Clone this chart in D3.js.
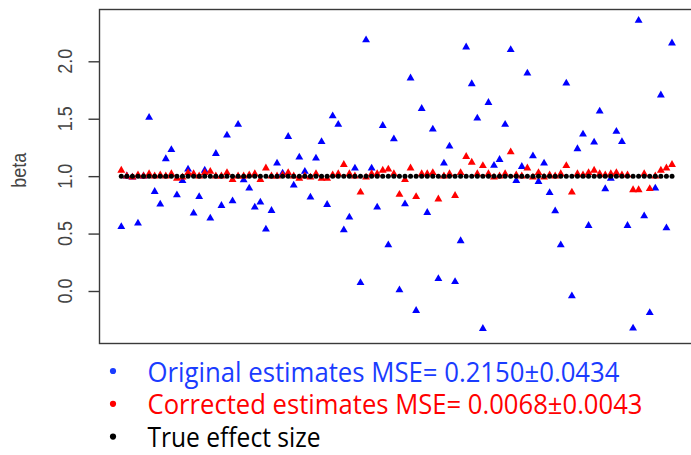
<!DOCTYPE html>
<html>
<head>
<meta charset="utf-8">
<script src="https://cdn.jsdelivr.net/npm/d3@7"></script>
<style>
  html, body { margin: 0; padding: 0; background: #fff; }
  svg { display: block; }
</style>
</head>
<body>
<svg id="chart" width="691" height="455"></svg>
<script>
// Simulation runs 1..100: estimated beta per run
const originalEstimates = [
  0.56, 1.00, 0.99, 0.59, 1.00, 1.51, 0.865, 0.755, 1.15, 1.23,
  0.836, 0.96, 1.06, 0.677, 0.82, 1.05, 0.633, 1.196, 0.743, 1.356,
  0.784, 1.449, 0.967, 0.895, 0.729, 0.773, 0.537, 0.70, 1.112, 1.025,
  1.344, 0.92, 1.165, 1.04, 0.816, 1.156, 1.30, 0.752, 1.524, 1.449,
  0.531, 0.642, 1.069, 0.072, 2.186, 1.069, 0.729, 1.44, 0.40, 1.324,
  0.009, 0.758, 1.853, -0.171, 1.588, 0.682, 1.408, 0.107, 1.112, 1.26,
  0.081, 0.436, 2.123, 1.803, 1.504, -0.328, 1.64, 1.092, 1.144, 1.449,
  2.10, 0.961, 1.083, 1.896, 1.176, 0.952, 1.112, 0.856, 0.697, 0.40,
  1.809, -0.044, 1.237, 1.365, 0.569, 1.295, 1.565, 0.889, 0.98, 1.388,
  1.30, 0.569, -0.325, 2.355, 0.653, -0.189, 0.895, 1.705, 0.549, 2.158
];

const correctedEstimates = [
  1.05, 1.00, 0.99, 1.01, 1.00, 1.02, 1.00, 1.01, 1.00, 1.02,
  0.98, 0.99, 1.03, 1.02, 1.00, 1.03, 1.04, 1.00, 1.00, 1.03,
  0.97, 1.00, 1.00, 1.01, 1.02, 0.97, 1.07, 1.00, 1.00, 1.01,
  1.03, 1.00, 0.98, 1.00, 0.99, 1.02, 0.98, 0.98, 1.01, 1.02,
  1.10, 1.02, 1.00, 0.86, 0.99, 1.02, 1.02, 1.05, 1.06, 1.02,
  0.84, 0.97, 1.07, 0.82, 1.02, 1.02, 1.03, 0.80, 1.00, 1.02,
  0.83, 1.03, 1.17, 1.12, 1.02, 1.09, 1.02, 0.99, 1.00, 1.02,
  1.21, 1.01, 1.00, 1.07, 0.99, 1.03, 0.99, 1.01, 1.00, 1.02,
  1.09, 0.86, 1.02, 1.01, 1.03, 1.05, 1.02, 1.01, 1.02, 1.03,
  1.01, 1.01, 0.88, 0.88, 1.02, 0.89, 1.00, 1.05, 1.07, 1.10
];

const trueEffect = [
  1, 1, 1, 1, 1, 1, 1, 1, 1, 1,
  1, 1, 1, 1, 1, 1, 1, 1, 1, 1,
  1, 1, 1, 1, 1, 1, 1, 1, 1, 1,
  1, 1, 1, 1, 1, 1, 1, 1, 1, 1,
  1, 1, 1, 1, 1, 1, 1, 1, 1, 1,
  1, 1, 1, 1, 1, 1, 1, 1, 1, 1,
  1, 1, 1, 1, 1, 1, 1, 1, 1, 1,
  1, 1, 1, 1, 1, 1, 1, 1, 1, 1,
  1, 1, 1, 1, 1, 1, 1, 1, 1, 1,
  1, 1, 1, 1, 1, 1, 1, 1, 1, 1
];

const yTicks = [0.0, 0.5, 1.0, 1.5, 2.0];
const yLabel = "beta";

const legendItems = [
  { text: "Original estimates MSE= 0.2150\u00B10.0434", color: "#1a3cff", width: 472 },
  { text: "Corrected estimates MSE= 0.0068\u00B10.0043", color: "#ff0000", width: 495 },
  { text: "True effect size", color: "#000000", width: 173 }
];

const svg = d3.select("#chart");

// plot frame
const frame = { left: 99.5, top: 9.5, right: 692, bottom: 343.5 };

const x = d3.scaleLinear().domain([1, 100]).range([121.3, 672]);
const y = d3.scaleLinear().domain([0, 2]).range([291, 61.3]);

// y axis (R-style: ticks outside, rotated labels)
const yAxis = d3.axisLeft(y)
  .tickValues(yTicks)
  .tickFormat(d3.format(".1f"))
  .tickSize(11)
  .tickPadding(0);

const axisG = svg.append("g")
  .attr("transform", `translate(${frame.left},0)`)
  .call(yAxis);
axisG.select(".domain").remove();
axisG.selectAll(".tick line").attr("stroke", "#3a3a3a").attr("stroke-width", 1.4);
axisG.selectAll(".tick text").remove();

// tick labels, rotated like base R graphics
svg.append("g").selectAll("text")
  .data(yTicks)
  .join("text")
  .attr("transform", d => `translate(72,${y(d)}) scale(1.15,1) rotate(-90)`)
  .attr("text-anchor", "middle")
  .attr("font-family", "Liberation Sans, Arial, sans-serif")
  .attr("font-size", 18)
  .attr("fill", "#444")
  .text(d => d3.format(".1f")(d));

svg.append("text")
  .attr("transform", `translate(26,${y(1) - 6}) scale(1.1,1) rotate(-90)`)
  .attr("text-anchor", "middle")
  .attr("font-family", "Liberation Sans, Arial, sans-serif")
  .attr("font-size", 18)
  .attr("fill", "#444")
  .text(yLabel);

const idx = d3.range(1, originalEstimates.length + 1);
const tri = d3.symbol().type(d3.symbolTriangle).size(27);

// original estimates (blue triangles)
svg.append("g").selectAll("path")
  .data(idx)
  .join("path")
  .attr("d", tri)
  .attr("transform", i => `translate(${x(i)},${y(originalEstimates[i - 1])})`)
  .attr("fill", "#0000ff");

// corrected estimates (red triangles)
svg.append("g").selectAll("path")
  .data(idx)
  .join("path")
  .attr("d", tri)
  .attr("transform", i => `translate(${x(i)},${y(correctedEstimates[i - 1])})`)
  .attr("fill", "#ff0000");

// true effect size (black dots)
svg.append("g").selectAll("circle")
  .data(idx)
  .join("circle")
  .attr("cx", i => x(i))
  .attr("cy", i => y(trueEffect[i - 1]))
  .attr("r", 2.5)
  .attr("fill", "#000");

// frame
svg.append("rect")
  .attr("x", frame.left)
  .attr("y", frame.top)
  .attr("width", frame.right - frame.left)
  .attr("height", frame.bottom - frame.top)
  .attr("fill", "none")
  .attr("stroke", "#3a3a3a")
  .attr("stroke-width", 1.4);

// bulleted legend below the plot
const legend = svg.append("g");
const baseY = 381.5, stepY = 32.8;
legendItems.forEach((item, k) => {
  const by = baseY + k * stepY;
  legend.append("circle")
    .attr("cx", 113)
    .attr("cy", by - 10.5)
    .attr("r", 3.1)
    .attr("fill", item.color);
  legend.append("text")
    .attr("x", 147.5)
    .attr("y", by)
    .attr("font-family", "Open Sans, Noto Sans, sans-serif")
    .attr("font-size", 26.5)
    .attr("fill", item.color)
    .attr("textLength", item.width)
    .attr("lengthAdjust", "spacingAndGlyphs")
    .text(item.text);
});
</script>
</body>
</html>
